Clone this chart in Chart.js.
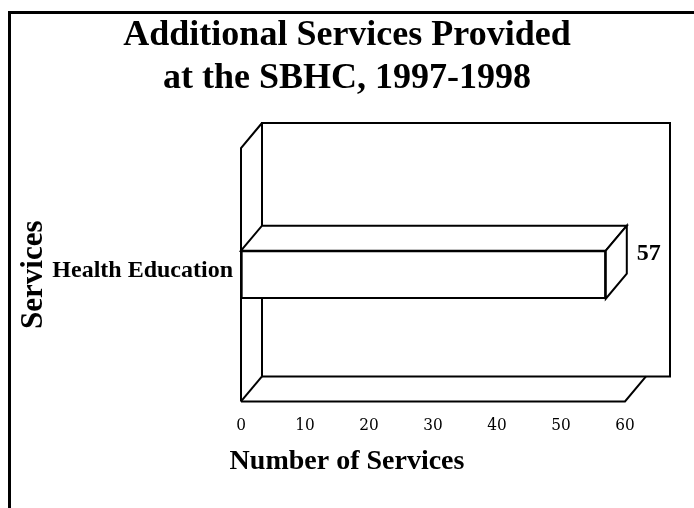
<!DOCTYPE html>
<html>
<head>
<meta charset="utf-8">
<script src="https://cdn.jsdelivr.net/npm/chart.js@4.4.0/dist/chart.umd.min.js"></script>
<style>
  body { margin: 0; background: #fff; }
</style>
</head>
<body>
<canvas id="cuadroGrafico" width="694" height="508"></canvas>
<script>

var categorias = ['Health Education'];
var valores = [57];
var marcasX = [0, 10, 20, 30, 40, 50, 60];
var titulo = ['Additional Services Provided', 'at the SBHC, 1997-1998'];
var tituloY = 'Services';
var tituloX = 'Number of Services';


var serif = "'Liberation Serif', 'Times New Roman', serif";
var prof = { x: 21, y: -25 };   // profundidad del efecto 3D
var extraPared = 24;             // la pared del fondo pasa un poco del 60

Chart.defaults.color = '#000';


function linea (ctx, puntos) {
    ctx.beginPath();
    ctx.moveTo(puntos[0][0], puntos[0][1]);
    for (var i = 1; i < puntos.length; i++) {
        ctx.lineTo(puntos[i][0], puntos[i][1]);
    }
    ctx.stroke();
}

function cara (ctx, puntos) {
    ctx.beginPath();
    ctx.moveTo(puntos[0][0], puntos[0][1]);
    for (var i = 1; i < puntos.length; i++) {
        ctx.lineTo(puntos[i][0], puntos[i][1]);
    }
    ctx.closePath();
    ctx.fill();
    ctx.stroke();
}


var caja3d = {
    id: 'caja3d',
    beforeDatasetsDraw: function (chart) {
        var ctx = chart.ctx;
        var a = chart.chartArea;
        var xs = chart.scales.x;
        var x0 = xs.getPixelForValue(marcasX[0]);
        var x1 = xs.getPixelForValue(marcasX[marcasX.length - 1]);
        var dx = prof.x, dy = prof.y;

        ctx.save();
        ctx.strokeStyle = '#000';
        ctx.lineWidth = 2;

        // pared del fondo
        linea(ctx, [[x0 + dx, a.bottom + dy], [x0 + dx, a.top + dy],
                    [x1 + dx + extraPared, a.top + dy], [x1 + dx + extraPared, a.bottom + dy],
                    [x0 + dx, a.bottom + dy]]);
        // pared izquierda
        linea(ctx, [[x0, a.bottom], [x0, a.top], [x0 + dx, a.top + dy]]);
        linea(ctx, [[x0, a.bottom], [x0 + dx, a.bottom + dy]]);
        // piso
        linea(ctx, [[x0, a.bottom], [x1, a.bottom], [x1 + dx, a.bottom + dy]]);

        ctx.restore();
    },
    afterDatasetsDraw: function (chart) {
        var ctx = chart.ctx;
        var meta = chart.getDatasetMeta(0);
        var dx = prof.x, dy = prof.y;

        ctx.save();
        ctx.strokeStyle = '#000';
        ctx.lineWidth = 2;

        meta.data.forEach(function (barra, i) {
            var xb = barra.base;
            var xe = barra.x;
            var arriba = barra.y - barra.height / 2;
            var abajo = barra.y + barra.height / 2;

            ctx.fillStyle = '#fff';
            cara(ctx, [[xb, arriba], [xb + dx, arriba + dy], [xe + dx, arriba + dy], [xe, arriba]]);
            cara(ctx, [[xe, arriba], [xe + dx, arriba + dy], [xe + dx, abajo + dy], [xe, abajo]]);

            ctx.fillStyle = '#000';
            ctx.font = 'bold 24px ' + serif;
            ctx.textAlign = 'left';
            ctx.textBaseline = 'middle';
            ctx.fillText(String(valores[i]), xe + dx + 10, arriba + 3);
        });

        ctx.restore();
    },
    afterDraw: function (chart) {
        // marco exterior (solo arriba e izquierda)
        var ctx = chart.ctx;
        ctx.save();
        ctx.strokeStyle = '#000';
        ctx.lineWidth = 3;
        linea(ctx, [[9.5, 508], [9.5, 12.5], [694, 12.5]]);
        ctx.restore();
    }
};


function generarGrafico () {

    var cuadroGrafico = document.getElementById('cuadroGrafico');

    var datosImprimir = {
        labels: categorias,
        datasets: [{
            data: valores,
            backgroundColor: '#fff',
            borderColor: '#000',
            borderWidth: 2,
            borderSkipped: false,
            barThickness: 48
        }]
    };

    var opciones = {
        indexAxis: 'y',
        responsive: false,
        animation: false,
        layout: { padding: { left: 0, right: 0, top: 0, bottom: 0 } },
        plugins: {
            legend: { display: false },
            tooltip: { enabled: false },
            title: {
                display: true,
                text: titulo,
                font: { family: serif, size: 36, weight: 'bold' },
                color: '#000',
                padding: { top: 14, bottom: 47.6 }
            },
            subtitle: {
                display: true,
                position: 'bottom',
                text: tituloX,
                font: { family: serif, size: 28, weight: 'bold' },
                color: '#000',
                padding: { top: 0, bottom: 29 }
            }
        },
        scales: {
            x: {
                type: 'linear',
                min: marcasX[0],
                max: marcasX[marcasX.length - 1],
                afterBuildTicks: function (eje) {
                    eje.ticks = marcasX.map(function (v) { return { value: v }; });
                },
                ticks: {
                    font: { family: "'DejaVu Serif Condensed', 'Liberation Serif', serif", size: 17 },
                    color: '#000',
                    padding: 14,
                    maxRotation: 0
                },
                grid: { display: false, drawTicks: false },
                border: { display: false },
                afterFit: function (eje) { eje.height = 44; }
            },
            y: {
                type: 'category',
                ticks: {
                    font: { family: serif, size: 24, weight: 'bold' },
                    color: '#000',
                    padding: 8,
                    labelOffset: -4
                },
                grid: { display: false, drawTicks: false },
                border: { display: false },
                title: {
                    display: true,
                    text: tituloY,
                    font: { family: serif, size: 31, weight: 'bold' },
                    color: '#000',
                    padding: { top: 15, bottom: 0 }
                },
                afterFit: function (eje) { eje.width = 241; }
            },
            derecha: {
                type: 'category',
                position: 'right',
                labels: [''],
                ticks: { display: false },
                grid: { display: false, drawTicks: false },
                border: { display: false },
                afterFit: function (eje) { eje.width = 69; }
            }
        }
    };

    new Chart(cuadroGrafico, {
        type: 'bar',
        data: datosImprimir,
        options: opciones,
        plugins: [caja3d]
    });
}

generarGrafico();

</script>
</body>
</html>
